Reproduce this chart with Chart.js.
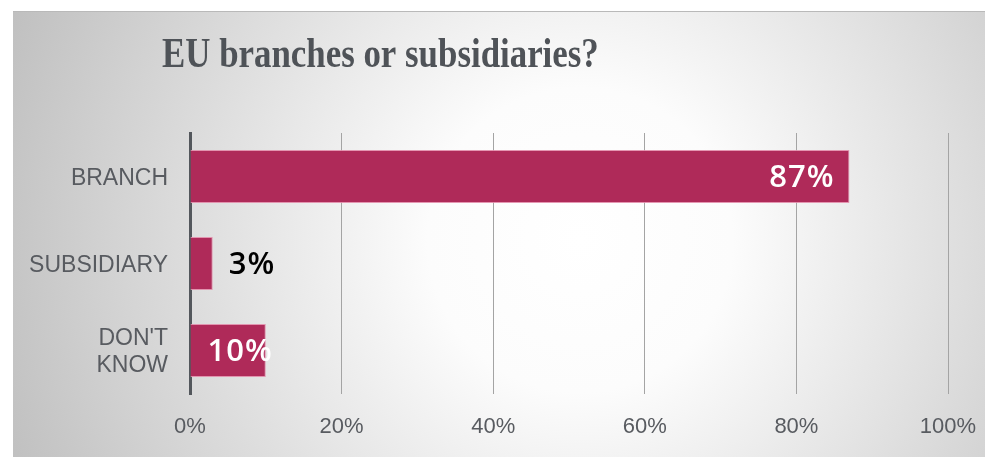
<!DOCTYPE html>
<html>
<head>
<meta charset="utf-8">
<script src="https://cdn.jsdelivr.net/npm/chart.js@4/dist/chart.umd.min.js"></script>
<style>
  html, body { margin: 0; padding: 0; background: #fff; }
  #wrap { width: 985px; height: 458px; position: relative; }
</style>
</head>
<body>
<div id="wrap"><canvas id="chart" width="985" height="458"></canvas></div>
<script>
const title = 'EU branches or subsidiaries?';
const categories = ['BRANCH', 'SUBSIDIARY', ["DON'T", 'KNOW']];
const shares = [87, 3, 10];
const tickValues = [0, 20, 40, 60, 80, 100];

// gradient panel + title
const backdrop = {
    id: 'backdrop',
    beforeDraw(chart) {
        const ctx = chart.ctx;
        ctx.save();
        ctx.fillStyle = '#ffffff';
        ctx.fillRect(0, 0, chart.width, chart.height);
        const g = ctx.createRadialGradient(580, 240, 0, 580, 240, 610);
        g.addColorStop(0, '#ffffff');
        g.addColorStop(0.25, '#fcfcfc');
        g.addColorStop(1, '#c0c0c0');
        ctx.fillStyle = g;
        ctx.fillRect(13, 11, chart.width - 13, chart.height - 12);
        ctx.fillStyle = '#b9b9b9';
        ctx.fillRect(13, 11, chart.width - 13, 1);

        ctx.translate(162, 67);
        ctx.scale(0.83, 1);
        ctx.font = 'bold 42px "Liberation Serif"';
        ctx.fillStyle = '#4f5358';
        ctx.textBaseline = 'alphabetic';
        ctx.fillText(title, 0, 0);
        ctx.restore();
    }
};

// value labels like the Excel original
const valueLabels = {
    id: 'valueLabels',
    afterDatasetsDraw(chart) {
        const ctx = chart.ctx;
        const meta = chart.getDatasetMeta(0);
        ctx.save();
        ctx.font = '600 31px "Open Sans"';
        ctx.letterSpacing = '1px';
        ctx.textBaseline = 'middle';
        meta.data.forEach((bar, i) => {
            const txt = shares[i] + '%';
            const w = ctx.measureText(txt).width;
            const len = bar.x - bar.base;
            if (len >= w + 30) {
                ctx.fillStyle = '#ffffff';
                ctx.textAlign = 'right';
                ctx.fillText(txt, bar.x - 15, bar.y + 2);
            } else if (len > w * 0.8) {
                ctx.fillStyle = '#ffffff';
                ctx.textAlign = 'left';
                ctx.fillText(txt, bar.base + 17, bar.y + 2);
            } else {
                ctx.fillStyle = '#000000';
                ctx.textAlign = 'left';
                ctx.fillText(txt, bar.x + 16, bar.y + 2);
            }
        });
        ctx.restore();
    }
};

new Chart(document.getElementById('chart'), {
    type: 'bar',
    data: {
        labels: categories,
        datasets: [{
            data: shares,
            backgroundColor: '#af2a59',
            borderColor: 'rgba(226,140,170,0.9)',
            borderWidth: 1,
            borderSkipped: 'start',
            categoryPercentage: 1,
            barPercentage: 0.61
        }]
    },
    options: {
        indexAxis: 'y',
        responsive: false,
        animation: false,
        devicePixelRatio: 1,
        layout: { padding: { left: 13, right: 37, top: 133, bottom: 1 } },
        plugins: {
            legend: { display: false },
            tooltip: { enabled: false }
        },
        scales: {
            x: {
                min: 0,
                max: 100,
                afterBuildTicks(scale) {
                    scale.ticks = tickValues.map(v => ({ value: v }));
                },
                afterFit(scale) {
                    scale.height = 63;
                    scale.paddingLeft = 0;
                    scale.paddingRight = 0;
                },
                grid: { color: '#a4a4a4', lineWidth: 1, drawTicks: false },
                border: { display: false },
                ticks: {
                    padding: 20,
                    color: '#585b60',
                    font: { family: '"Liberation Sans"', size: 22 },
                    callback: v => v + '%'
                }
            },
            y: {
                afterFit(scale) { scale.width = 177; },
                grid: { display: false, drawTicks: false },
                border: { display: true, color: '#53575c', width: 3 },
                ticks: {
                    padding: 22,
                    labelOffset: 2,
                    color: '#585b60',
                    font: { family: '"Liberation Sans"', size: 23, lineHeight: 1.17 }
                }
            }
        }
    },
    plugins: [backdrop, valueLabels]
});
</script>
</body>
</html>
